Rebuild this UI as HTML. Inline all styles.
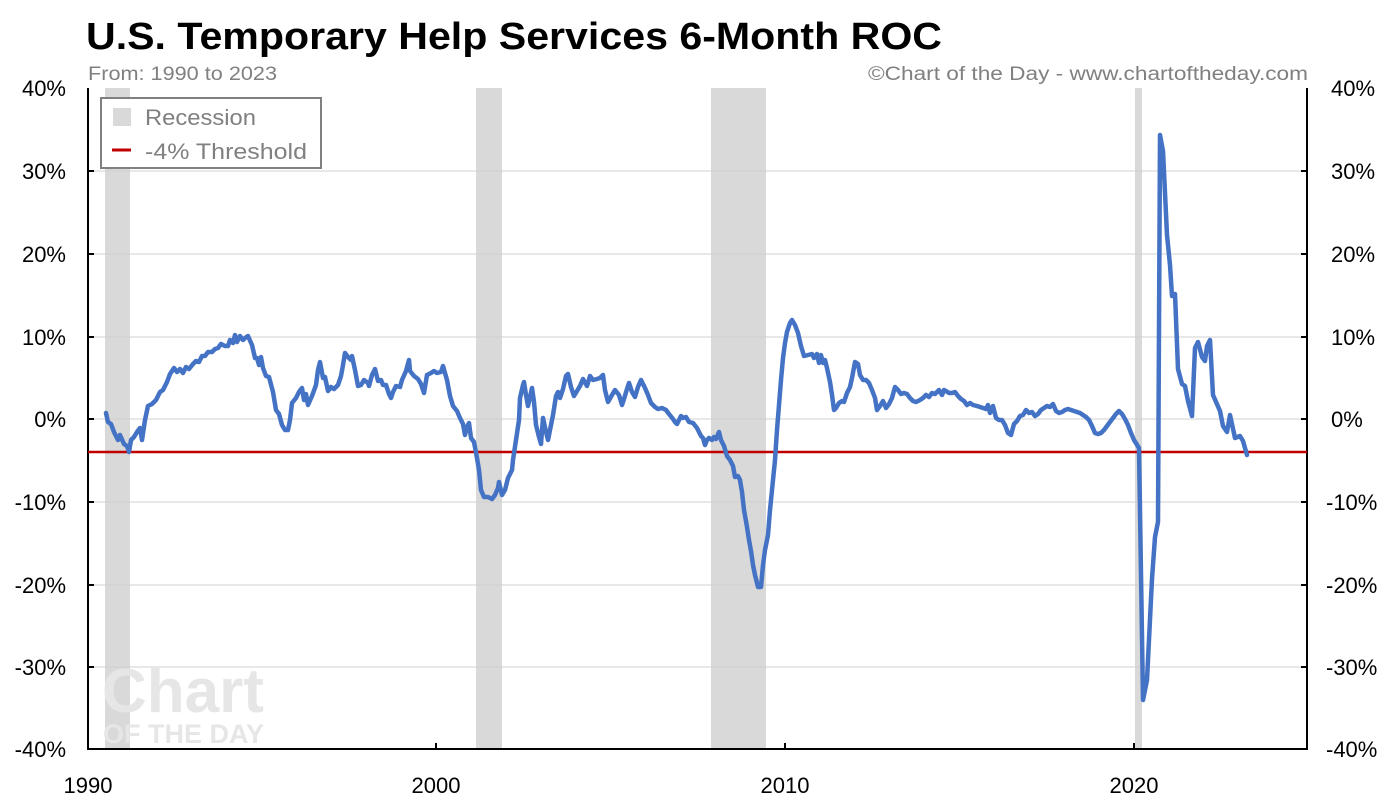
<!DOCTYPE html>
<html><head><meta charset="utf-8"><style>
body{margin:0;background:#fff;}
svg{display:block;font-family:"Liberation Sans",Arial,sans-serif;}
</style></head><body>
<svg width="1398" height="810" viewBox="0 0 1398 810" xmlns="http://www.w3.org/2000/svg">
<text x="86" y="49" font-size="38" font-weight="bold" fill="#000" textLength="856" lengthAdjust="spacingAndGlyphs">U.S. Temporary Help Services 6-Month ROC</text>
<text x="88" y="80" font-size="19" fill="#808080" textLength="189" lengthAdjust="spacingAndGlyphs">From: 1990 to 2023</text>
<text x="868" y="80" font-size="19" fill="#808080" textLength="440" lengthAdjust="spacingAndGlyphs">©Chart of the Day - www.chartoftheday.com</text>
<g fill="#d9d9d9">
<rect x="105" y="88" width="25" height="661"/>
<rect x="476" y="88" width="26" height="661"/>
<rect x="711" y="88" width="55" height="661"/>
<rect x="1135" y="88" width="7" height="661"/>
</g>
<g stroke="#d0d0d0" stroke-width="1">
<line x1="88" x2="1307" y1="171" y2="171"/><line x1="88" x2="1307" y1="254" y2="254"/>
<line x1="88" x2="1307" y1="337" y2="337"/><line x1="88" x2="1307" y1="419" y2="419"/>
<line x1="88" x2="1307" y1="502" y2="502"/><line x1="88" x2="1307" y1="585" y2="585"/>
<line x1="88" x2="1307" y1="667" y2="667"/>
</g>
<text x="102" y="712" font-size="62" font-weight="bold" fill="#e6e6e6">Chart</text>
<text x="103" y="743" font-size="27" font-weight="bold" fill="#e6e6e6">OF THE DAY</text>
<g stroke="#000" stroke-width="2" fill="none">
<polyline points="88,88 88,749 1307,749 1307,88"/>
</g>
<g stroke="#000" stroke-width="2">
<line x1="88" x2="94" y1="171" y2="171"/><line x1="88" x2="94" y1="254" y2="254"/><line x1="88" x2="94" y1="337" y2="337"/><line x1="88" x2="94" y1="419" y2="419"/><line x1="88" x2="94" y1="502" y2="502"/><line x1="88" x2="94" y1="585" y2="585"/><line x1="88" x2="94" y1="667" y2="667"/>
<line x1="1301" x2="1307" y1="171" y2="171"/><line x1="1301" x2="1307" y1="254" y2="254"/><line x1="1301" x2="1307" y1="337" y2="337"/><line x1="1301" x2="1307" y1="419" y2="419"/><line x1="1301" x2="1307" y1="502" y2="502"/><line x1="1301" x2="1307" y1="585" y2="585"/><line x1="1301" x2="1307" y1="667" y2="667"/>
<line x1="436" x2="436" y1="749" y2="743"/><line x1="785" x2="785" y1="749" y2="743"/><line x1="1134" x2="1134" y1="749" y2="743"/>
</g>
<g font-size="22" fill="#000" text-anchor="end">
<text x="66" y="96">40%</text><text x="66" y="179">30%</text><text x="66" y="262">20%</text><text x="66" y="345">10%</text><text x="66" y="427">0%</text><text x="66" y="510">-10%</text><text x="66" y="593">-20%</text><text x="66" y="675">-30%</text><text x="66" y="757">-40%</text>
</g>
<g font-size="22" fill="#000" text-anchor="start">
<text x="1331" y="96">40%</text><text x="1331" y="179">30%</text><text x="1331" y="262">20%</text><text x="1331" y="345">10%</text><text x="1331" y="427">0%</text><text x="1326" y="510">-10%</text><text x="1326" y="593">-20%</text><text x="1326" y="675">-30%</text><text x="1326" y="757">-40%</text>
</g>
<g font-size="22" fill="#000" text-anchor="middle">
<text x="88" y="793">1990</text><text x="436" y="793">2000</text><text x="785" y="793">2010</text><text x="1134" y="793">2020</text>
</g>
<line x1="88" x2="1307" y1="452" y2="452" stroke="#c00000" stroke-width="2.5"/>
<polyline fill="none" stroke="#4472c4" stroke-width="4.5" stroke-linejoin="round" stroke-linecap="round" points="106,413 108,422 111,424 114,432 118,440 120,435 124,444 127,446 129,452 131,440 134,437 137,432 140,428 142,440 145,420 148,406 152,404 156,400 160,392 163,390 167,382 170,374 174,368 177,372 180,369 183,373 186,367 189,369 193,364 196,361 199,362 202,356 205,356 208,352 212,352 215,349 218,348 221,344 225,346 228,346 230,340 233,343 235,335 237,342 240,336 243,340 245,338 248,336 252,345 255,358 257,358 259,365 261,357 263,368 266,376 269,377 273,392 276,410 279,414 282,425 285,430 288,430 290,420 292,403 296,398 299,392 302,388 304,400 306,394 308,405 312,396 316,385 318,370 320,362 323,378 325,377 328,391 331,387 334,389 338,385 341,376 343,365 345,353 348,357 351,360 352,356 355,370 358,386 361,385 364,380 368,383 369,386 372,375 375,369 378,381 381,380 383,385 386,385 389,394 391,398 393,392 396,386 400,387 402,380 406,371 409,360 410,371 414,376 418,379 421,384 424,393 427,375 431,373 434,371 437,373 441,372 443,366 445,373 447,380 450,396 453,406 457,411 460,418 463,424 465,435 467,427 469,423 471,438 474,442 477,458 479,470 481,490 484,497 488,497 492,499 495,495 498,488 499,482 502,495 505,490 508,478 512,470 513,460 516,440 519,420 520,398 523,385 524,382 526,395 528,406 530,397 532,388 534,402 536,425 539,437 541,444 543,418 546,432 548,440 550,430 553,415 556,396 558,392 560,398 563,389 566,376 568,374 571,387 574,396 577,391 580,386 583,379 587,386 590,376 593,380 597,379 600,378 603,375 605,390 608,402 612,395 615,390 619,395 622,405 624,399 627,389 629,383 632,392 635,397 638,387 641,380 645,388 648,395 651,403 655,407 658,409 662,408 666,410 669,414 673,419 675,422 677,424 679,420 681,416 683,418 686,417 689,422 693,423 697,428 701,436 703,438 705,445 707,440 709,438 712,440 714,437 716,439 719,432 721,440 724,446 727,456 730,460 733,466 735,477 738,476 740,480 742,492 744,510 747,527 749,540 751,551 753,565 755,575 758,587 761,587 763,565 765,550 768,535 770,510 772,490 775,460 777,430 779,405 781,380 783,358 785,343 787,332 790,323 792,320 795,325 798,333 801,346 804,356 808,355 812,354 814,358 817,354 819,363 821,355 823,363 825,360 827,368 830,382 832,395 834,410 836,408 839,403 842,401 844,402 847,393 850,387 852,378 855,362 858,364 860,375 863,380 866,380 869,383 872,390 875,398 877,410 880,406 883,401 886,408 889,404 892,398 895,387 898,390 901,394 904,393 907,394 910,398 913,401 916,402 920,400 923,398 926,395 929,397 932,393 935,394 939,390 942,395 944,390 946,391 949,393 952,393 955,392 958,396 961,399 964,401 967,405 970,403 973,405 977,406 980,407 983,408 986,409 988,405 990,413 993,406 996,418 999,420 1002,420 1005,425 1008,433 1011,435 1014,424 1017,421 1020,416 1023,415 1026,410 1029,413 1032,412 1035,416 1038,414 1041,410 1044,408 1047,406 1050,407 1053,404 1056,411 1059,413 1062,412 1065,410 1068,409 1071,410 1074,411 1077,412 1080,413 1083,415 1086,417 1089,420 1092,426 1095,433 1098,434 1101,433 1104,430 1107,426 1110,422 1113,418 1116,414 1119,411 1122,414 1125,419 1128,425 1131,433 1134,440 1139,448 1143,700 1147,680 1152,579 1155,537 1158,522 1160,135 1163,151 1167,235 1170,265 1172,296 1175,294 1178,369 1182,384 1185,386 1188,401 1192,416 1195,348 1198,342 1202,357 1205,361 1207,346 1210,340 1213,395 1220,411 1223,426 1227,432 1230,415 1235,438 1240,436 1243,441 1247,455"/>
<rect x="101" y="98" width="220" height="70" fill="#fff" stroke="#808080" stroke-width="2"/>
<rect x="113" y="108" width="18" height="18" fill="#d9d9d9"/>
<text x="145" y="125" font-size="22" fill="#808080" textLength="111" lengthAdjust="spacingAndGlyphs">Recession</text>
<line x1="112" x2="131" y1="150" y2="150" stroke="#c00000" stroke-width="3"/>
<text x="145" y="159" font-size="22" fill="#808080" textLength="162" lengthAdjust="spacingAndGlyphs">-4% Threshold</text>
</svg>
</body></html>
